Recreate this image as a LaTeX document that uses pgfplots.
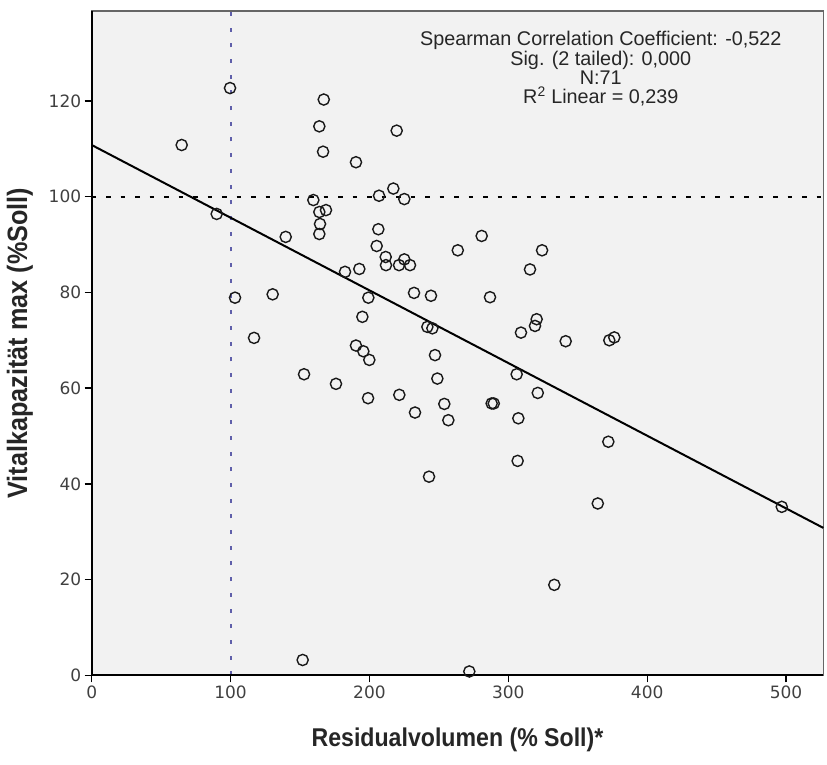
\documentclass[border=0pt]{standalone}
\usepackage{fontspec}
\setmainfont{Liberation Sans}
\newfontfamily\tickfont{DejaVu Sans}
\newfontfamily\labfont[FakeStretch=0.9]{Liberation Sans Bold}
\usepackage{pgfplots}
\pgfplotsset{compat=1.18}

\definecolor{plotbg}{RGB}{242,242,242}
\definecolor{refblue}{RGB}{95,95,170}

% Residualvolumen (% Soll) vs. Vitalkapazitaet max (%Soll), N = 71
\pgfplotstableread{
rv    vk
64.8  110.8
99.6  122.7
167.1 120.3
163.9 114.7
166.6 109.4
190.3 107.2
219.6 113.8
90.0  96.4
159.6 99.3
163.9 96.8
168.7 97.2
164.4 94.3
163.9 92.2
139.7 91.6
206.9 100.2
217.2 101.7
225.1 99.5
206.4 93.2
205.2 89.7
211.7 87.4
211.9 85.7
221.3 85.7
225.1 86.9
229.2 85.7
182.4 84.3
192.7 84.9
103.2 78.9
130.3 79.6
199.2 78.9
232.1 79.9
194.9 74.9
116.9 70.5
190.3 68.9
195.6 67.7
199.9 65.9
152.9 62.9
280.8 91.8
263.6 88.8
324.3 88.8
315.6 84.8
244.3 79.3
286.8 79.0
241.7 72.8
245.3 72.5
320.4 74.4
319.2 73.0
309.1 71.6
341.3 69.8
372.7 70.0
376.3 70.6
247.2 66.9
248.9 62.0
306.0 62.9
175.9 60.9
199.0 57.9
221.5 58.6
232.8 54.9
151.9 3.2
321.2 59.0
253.9 56.7
256.8 53.3
288.0 56.8
289.5 56.8
307.2 53.7
372.0 48.8
306.7 44.8
242.9 41.5
364.4 35.9
496.9 35.2
333.1 18.9
271.9 0.8
}\scatterdata

\begin{document}
\begin{tikzpicture}
\path[use as bounding box] (0,0) rectangle (827pt,764pt);
\begin{axis}[
    at={(91.7pt,88.7pt)}, anchor=south west,
    width=731.6pt, height=664.3pt, scale only axis,
    xmin=0, xmax=526.8, ymin=0, ymax=138.8,
    xtick={0,100,...,500}, ytick={0,20,...,120},
    tick align=outside, major tick length=7pt,
    xtick pos=bottom, ytick pos=left,
    tick style={black, line width=1.3pt},
    axis line style={black!60, line width=1.5pt},
    axis background/.style={fill=plotbg},
    ticklabel style={font=\tickfont\fontsize{17}{17}\selectfont, text=black!75},
    /pgf/number format/assume math mode=true,
    scaled ticks=false,
    clip=false,
    xlabel={Residualvolumen (\% Soll)*},
    ylabel={Vitalkapazität max (\%Soll)},
    xlabel style={font=\labfont\fontsize{25.7}{26}\selectfont, text=black!85,
        at={(axis description cs:0.5,-0.1079)}, anchor=base},
    ylabel style={font=\labfont\fontsize{28}{28}\selectfont, text=black!85,
        at={(axis description cs:-0.0884,0.5)}, anchor=base, rotate=0},
]
% reference lines
\addplot[refblue, line width=2pt, dash pattern=on 4pt off 11.7pt]
    coordinates {(100,0) (100,138.8)};
\addplot[black, line width=1.8pt, dash pattern=on 4.5pt off 10pt]
    coordinates {(0,100) (526.8,100)};
% linear fit
\addplot[black, line width=2pt] coordinates {(0,110.8) (526.8,30.8)};
% left and bottom axis lines in black
\draw[black, line width=1.8pt] (rel axis cs:0,1) -- (rel axis cs:0,0) -- (rel axis cs:1,0);
% observations
\addplot[only marks, mark=o, mark size=5.6pt, mark options={black!90, line width=1.4pt}]
    table[x=rv, y=vk] {\scatterdata};
% statistics box
\node[anchor=base, font=\fontsize{19.8}{20}\selectfont, text=black!85]
    at (axis cs:366.6,131.6) {Spearman Correlation Coefficient: -0,522};
\node[anchor=base, font=\fontsize{19.8}{20}\selectfont, text=black!85]
    at (axis cs:366.6,127.5) {Sig. (2 tailed): 0,000};
\node[anchor=base, font=\fontsize{19.8}{20}\selectfont, text=black!85]
    at (axis cs:366.6,123.5) {N:71};
\node[anchor=base, font=\fontsize{19.8}{20}\selectfont, text=black!85]
    at (axis cs:366.6,119.4) {R\textsuperscript{2} Linear = 0,239};
\end{axis}
\end{tikzpicture}
\end{document}
